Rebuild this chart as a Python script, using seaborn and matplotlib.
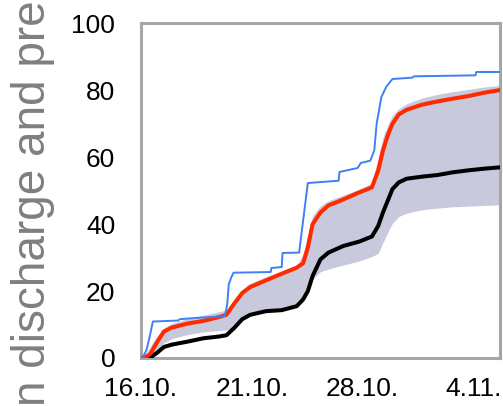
import matplotlib
matplotlib.use("Agg")
import matplotlib.pyplot as plt
import seaborn as sns
import pandas as pd

# ---- data ----
days = [0, 0.3, 0.6, 1.0, 1.45, 1.95, 2.95, 3.95, 4.9, 5.4, 5.9, 6.4, 6.9, 7.9, 8.9, 9.85,
        10.25, 10.55, 10.85, 11.35, 11.85, 12.8, 13.8, 14.6, 15.0, 15.3, 15.6, 15.9, 16.3,
        16.8, 17.75, 18.75, 19.7, 20.7, 21.7, 22.7]
red_series = [0, 0.3, 1.3, 4.6, 7.9, 9.1, 10.3, 11.1, 12.2, 12.9, 16.3, 19.4, 21.2, 23.2, 25.2,
              27.0, 28.3, 33.0, 40.0, 43.5, 45.6, 47.4, 49.5, 51.0, 56.0, 62.0, 66.5, 70.0,
              72.8, 74.2, 75.7, 76.7, 77.5, 78.3, 79.3, 80.1]
black_series = [0, 0, 0.2, 1.5, 3.3, 4.0, 4.9, 5.9, 6.4, 6.8, 9.0, 11.6, 12.9, 14.0, 14.3, 15.5,
                17.5, 20.0, 24.5, 29.5, 31.5, 33.5, 34.8, 36.3, 39.5, 43.5, 47.0, 50.5, 52.5,
                53.6, 54.2, 54.7, 55.5, 56.1, 56.6, 57.0]
band_upper = [0, 1.0, 3.5, 6.5, 9.0, 10.3, 11.8, 12.8, 13.8, 14.3, 17.5, 20.5, 22.3, 24.3, 26.0,
              27.8, 31.0, 37.0, 42.5, 45.5, 47.0, 48.7, 50.5, 52.3, 60.0, 66.0, 69.5, 72.5,
              74.5, 76.0, 77.7, 78.8, 79.6, 80.3, 81.0, 81.5]
band_lower = [0, 0.1, 0.6, 2.0, 4.5, 5.8, 7.0, 7.8, 8.2, 8.4, 8.8, 11.3, 12.7, 13.8, 14.1, 15.3,
              17.0, 19.3, 23.5, 25.8, 26.6, 27.8, 29.0, 30.3, 31.3, 34.5, 37.5, 40.3, 42.3,
              43.3, 44.3, 44.8, 45.2, 45.4, 45.6, 45.8]

blue_days = [0, 0.15, 0.35, 0.55, 0.75, 2.35, 2.45, 3.55, 5.3, 5.45, 5.55, 5.7, 5.85, 8.2, 8.25,
             8.9, 8.95, 10.0, 10.25, 10.55, 12.5, 12.55, 13.7, 13.9, 14.5, 14.75, 14.9, 15.2,
             15.5, 15.9, 17.15, 17.25, 21.15, 21.2, 22.7]
blue_series = [0, 0.5, 2.4, 6.4, 10.9, 11.2, 11.6, 12.0, 12.5, 16.0, 22.0, 24.0, 25.5, 25.7, 26.9,
               27.2, 31.4, 31.5, 41.0, 52.3, 53.0, 55.6, 56.8, 58.3, 59.0, 62.0, 70.0, 78.0,
               81.0, 83.4, 83.8, 84.2, 84.5, 85.5, 85.5]

x_tick_pos = [0, 7, 14, 21]
x_tick_labels = ["16.10.", "21.10.", "28.10.", "4.11."]
y_ticks = [0, 20, 40, 60, 80, 100]
y_label_text = "n discharge and pre"

# ---- styling ----
sns.set_theme(style="white")
plt.rcParams["font.family"] = ["Liberation Sans", "DejaVu Sans"]

fig = plt.figure(figsize=(5.03, 4.07), dpi=100)
ax = fig.add_axes([0.2803, 0.1204, 0.7137, 0.8219])

df = pd.DataFrame({"day": days, "red": red_series, "black": black_series,
                   "upper": band_upper, "lower": band_lower})
dfb = pd.DataFrame({"day": blue_days, "blue": blue_series})

ax.fill_between(df["day"], df["lower"], df["upper"], color="#c8c9dc", linewidth=0, zorder=1)
sns.lineplot(data=df, x="day", y="black", color="#000000", linewidth=2.9,
             estimator=None, sort=False, ax=ax, zorder=3)
sns.lineplot(data=df, x="day", y="red", color="#ff2a00", linewidth=2.9,
             estimator=None, sort=False, ax=ax, zorder=4)
sns.lineplot(data=dfb, x="day", y="blue", color="#3f80f5", linewidth=1.4,
             estimator=None, sort=False, ax=ax, zorder=5)

ax.set_xlim(0, 22.7)
ax.set_ylim(0, 100)
ax.set_xticks(x_tick_pos)
ax.set_xticklabels(x_tick_labels)
ax.set_yticks(y_ticks)
ax.set_xlabel("")
ax.set_ylabel("")
ax.tick_params(axis="both", length=0, labelsize=19, labelcolor="#000000")
ax.tick_params(axis="y", pad=18.5)
ax.tick_params(axis="x", pad=14)
for s in ax.spines.values():
    s.set_visible(True)
    s.set_color("#a6a6a6")
    s.set_linewidth(2.2)
ax.grid(False)

fig.text(45 / 503, 1 / 407, y_label_text, rotation=90, rotation_mode="anchor",
         ha="left", va="baseline", fontsize=33, color="#7f7f7f",
         family=["Liberation Sans", "DejaVu Sans"])

fig.savefig("out.png", dpi=100)
